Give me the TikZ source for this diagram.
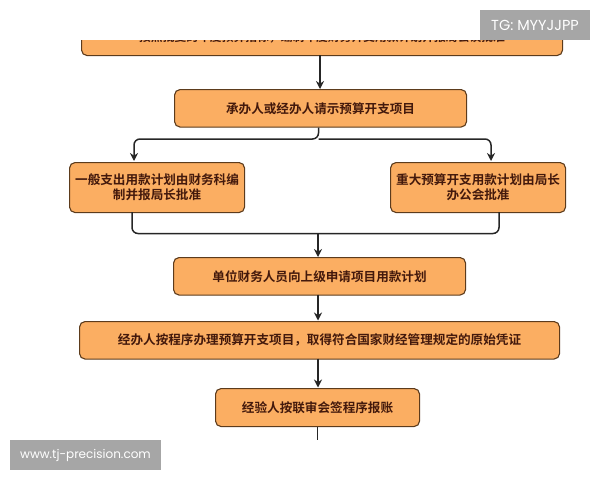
\documentclass[tikz,border=0pt]{standalone}
\usepackage{fontspec}
\setmainfont{Noto Sans CJK SC}[BoldFont={* Bold}]
\newfontfamily\markfont{Poppins}
\usetikzlibrary{arrows.meta}
\definecolor{boxfill}{HTML}{FBAE62}
\definecolor{boxline}{HTML}{5C3B1C}
\definecolor{boxtext}{HTML}{43190C}
\definecolor{markgray}{HTML}{A6A6A6}
\tikzstyle{stepbox}=[draw=boxline, fill=boxfill, line width=1.1pt, rounded corners=5.5pt, inner sep=0pt,
	align=center, text=boxtext, font=\fontsize{12.6}{15}\selectfont\bfseries, anchor=north west]
\tikzstyle{link}=[draw=black!85, line width=1.5pt, -{Stealth[length=8pt,width=8pt]}]
\tikzstyle{joint}=[draw=black!85, line width=1.5pt, rounded corners=6pt]
\tikzstyle{stamp}=[fill=markgray, text=white, inner sep=0pt]
\newcommand{\stepbox}[4]{\node[stepbox, minimum width=#2pt, minimum height=#3pt] (#1) at #4}

\begin{document}
\begin{tikzpicture}[x=1pt, y=-1pt]
	\useasboundingbox (0, 0) rectangle (600, 480);
	\begin{scope}
		\clip (0, 40) rectangle (600, 480);
		\stepbox{plan}{481}{37}{(81, 18)}{\fontsize{11.8}{15}\selectfont 按照批复的年度预算指标，编制年度财务开支用款计划并报局会议批准};
	\end{scope}
	\coordinate (plan exit) at (320, 55);
	\stepbox{ask}{292}{37.5}{(174, 89)}{承办人或经办人请示预算开支项目};
	\stepbox{normal}{175}{50}{(69, 162)}{一般支出用款计划由财务科编\\制并报局长批准};
	\stepbox{major}{175}{50}{(390, 162)}{重大预算开支用款计划由局长\\办公会批准};
	\stepbox{apply}{292}{37.5}{(173, 257)}{单位财务人员向上级申请项目用款计划};
	\stepbox{handle}{480}{37.5}{(79, 321)}{经办人按程序办理预算开支项目，取得符合国家财经管理规定的原始凭证};
	\stepbox{claim}{204}{38}{(215, 388)}{经验人按联审会签程序报账};
	\coordinate (split) at (318.5, 139);
	\coordinate (merge) at (318, 233.5);
	\coordinate (end) at (317.5, 440);
	\path[link] (plan exit) -- (plan exit |- ask.north);
	\path[joint, -{Stealth[length=8pt,width=8pt]}] (split |- ask.south) -- (split) -| (134, 161);
	\path[joint, -{Stealth[length=8pt,width=8pt]}] (split) -| (491, 161);
	\path[joint] (132, 212) |- (merge) -| (499, 212);
	\path[link] (merge) -- (merge |- apply.north);
	\path[link] (318, 294.5) -- (318, 320.5);
	\path[link] (318, 358.5) -- (318, 387.5);
	\path[joint] (end |- claim.south) -- (end);
	\node[stamp, minimum width=110pt, minimum height=30pt, font=\markfont\fontsize{14.5}{16}\selectfont] (mark top) at (535, 25) {TG: MYYJJPP};
	\node[stamp, minimum width=151pt, minimum height=30pt, font=\markfont\fontsize{12}{14}\selectfont] (mark site) at (85.5, 455) {www.tj-precision.com};
\end{tikzpicture}
\end{document}
